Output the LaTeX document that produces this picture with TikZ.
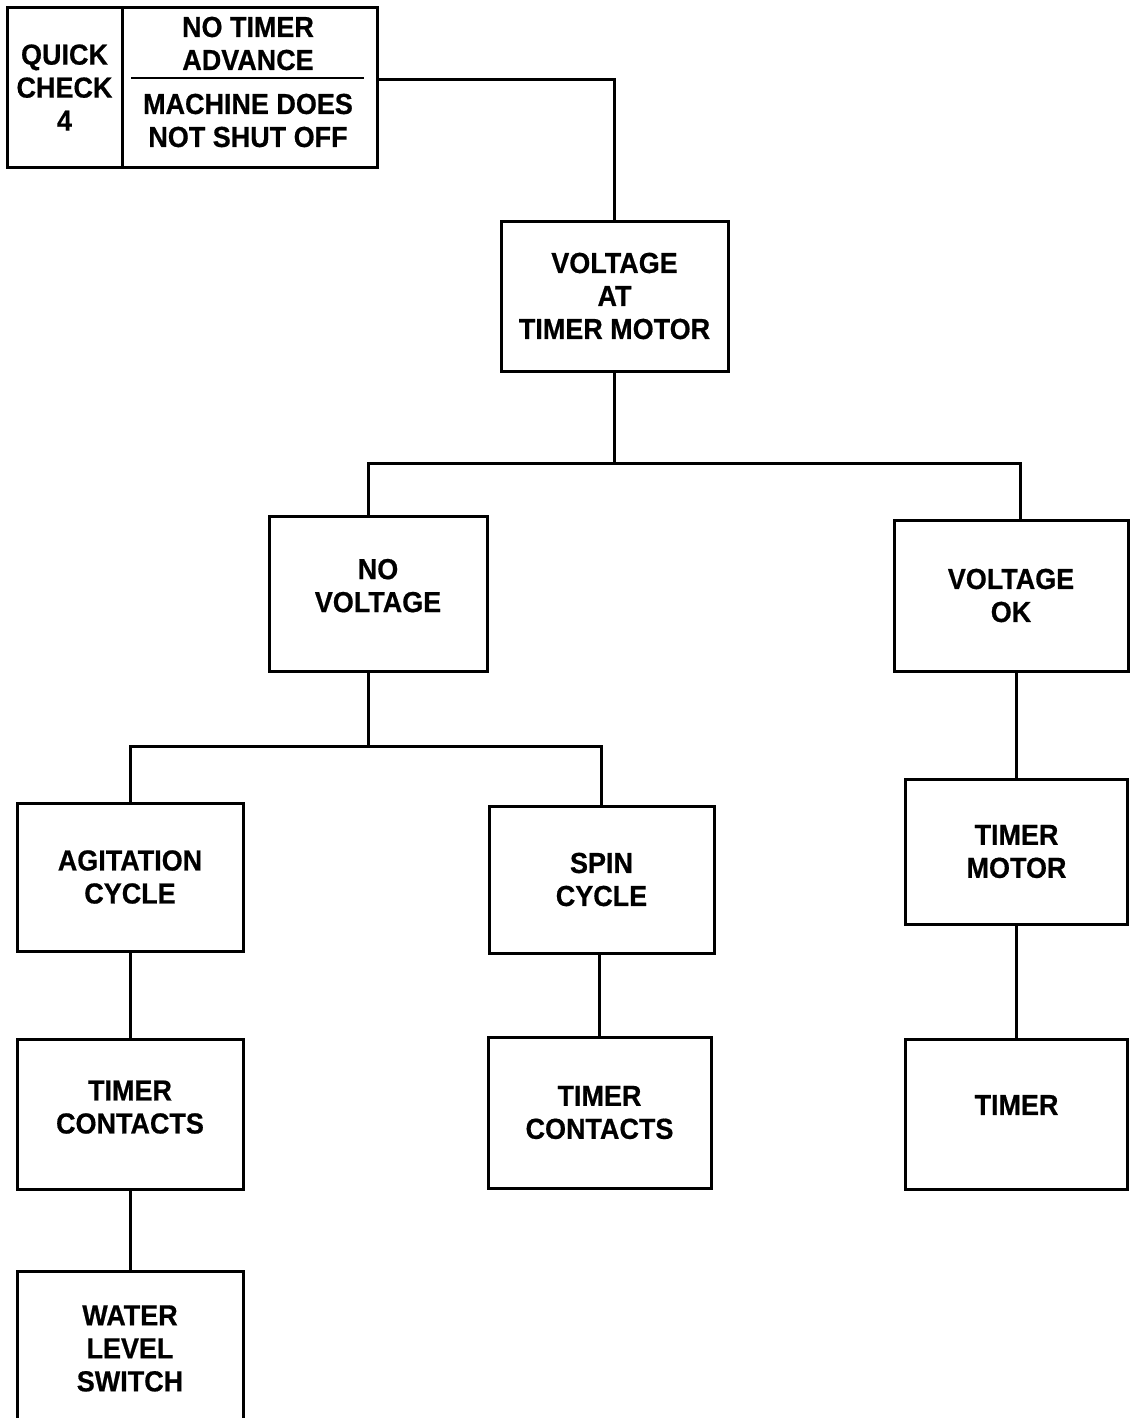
\documentclass[tikz,border=0pt]{standalone}
\usepackage{fontspec}
\setmainfont{Liberation Sans}[FakeStretch=0.93, FakeBold=0.6]

\begin{document}
\begin{tikzpicture}[x=1pt, y=-1pt,
  txt/.style={align=center, inner sep=0pt, font=\fontsize{29}{33}\selectfont\bfseries},
  box/.style={txt, draw, line width=3pt},
  link/.style={line width=3pt}]
  \useasboundingbox (0,0) rectangle (1130,1418);
  % Heading block
  \node[box, minimum width=115pt, minimum height=159pt] (qc) at (64.5,87.5) {QUICK\\CHECK\\4};
  \node[box, minimum width=255pt, minimum height=159pt] (symptom) at (249.5,87.5) {};
  \node[txt] (symtop) at (248,43.5) {NO TIMER\\ADVANCE};
  \node[txt] (symbot) at (248,120.5) {MACHINE DOES\\NOT SHUT OFF};
  \draw[line width=2pt] (131,78) -- (364,78);
  \coordinate (qout) at (377,80);
  % First test
  \node[box, minimum width=227pt, minimum height=150pt] (vtm) at (614.5,296) {VOLTAGE\\AT\\TIMER MOTOR};
  % Results
  \node[box, minimum width=218pt, minimum height=155pt, text depth=16pt] (novolt) at (378,593.5) {NO\\VOLTAGE};
  \node[box, minimum width=234pt, minimum height=151pt] (vok) at (1011,595.5) {VOLTAGE\\OK};
  % No voltage branch
  \node[box, minimum width=226pt, minimum height=148pt] (agit) at (130,877) {AGITATION\\CYCLE};
  \node[box, minimum width=225pt, minimum height=147pt] (spin) at (601.5,879.5) {SPIN\\CYCLE};
  \node[box, minimum width=226pt, minimum height=150pt, text depth=14pt] (tca) at (130,1114) {TIMER\\CONTACTS};
  \node[box, minimum width=223pt, minimum height=151pt] (tcs) at (599.5,1112.5) {TIMER\\CONTACTS};
  \node[box, minimum width=226pt, minimum height=155pt] (wls) at (130,1348.5) {WATER\\LEVEL\\SWITCH};
  % Voltage ok branch
  \node[box, minimum width=222pt, minimum height=145pt] (tmotor) at (1016.5,851.5) {TIMER\\MOTOR};
  \node[box, minimum width=222pt, minimum height=150pt, text depth=18pt] (timer) at (1016.5,1114) {TIMER};
  % Connectors
  \draw[link] (qout) -| (vtm.north);
  \draw[link] (vtm.south) -- ++(0,91) coordinate (j1);
  \draw[link] ([xshift=-10pt]novolt.north) |- (j1) -| ([xshift=9pt]vok.north);
  \draw[link] ([xshift=-10pt]novolt.south) -- ++(0,74) coordinate (j2);
  \draw[link] (agit.north) |- (j2) -| (spin.north);
  \draw[link] (agit.south) -- (tca.north);
  \draw[link] (tca.south) -- (wls.north);
  \draw[link] (tcs.north |- spin.south) -- (tcs.north);
  \draw[link] (tmotor.north |- vok.south) -- (tmotor.north);
  \draw[link] (tmotor.south) -- (timer.north);
\end{tikzpicture}
\end{document}
